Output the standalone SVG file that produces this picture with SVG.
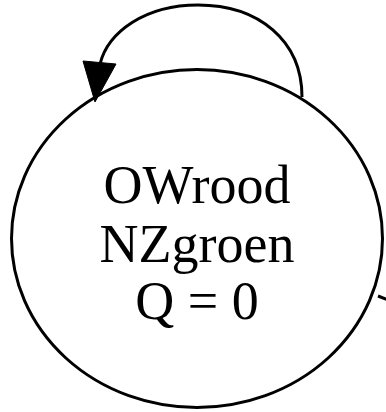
<svg xmlns="http://www.w3.org/2000/svg" width="386" height="412" viewBox="0 0 386 412">
<style>
.edge{fill:none;stroke:#000;stroke-width:3}
.node{fill:none;stroke:#000;stroke-width:3}
.lbl{font-family:"Liberation Serif",serif;font-size:54px;text-anchor:middle;fill:#000}
</style>
<rect width="386" height="412" fill="#fff"/>
<g id="edges">
<path class="edge" d="M302,97 C302,40 258,5 198,5 C145,5 108,32 100,64"/>
<polygon points="83,61 116,64 95,102" fill="#000" stroke="#000" stroke-width="1"/>
<path class="edge" d="M378,296 L388,300"/>
</g>
<g id="node1">
<ellipse class="node" cx="197" cy="238.5" rx="185.5" ry="169"/>
<text class="lbl" x="197" y="203">OWrood</text>
<text class="lbl" x="197" y="262">NZgroen</text>
<text class="lbl" x="197" y="319">Q = 0</text>
</g>
</svg>
